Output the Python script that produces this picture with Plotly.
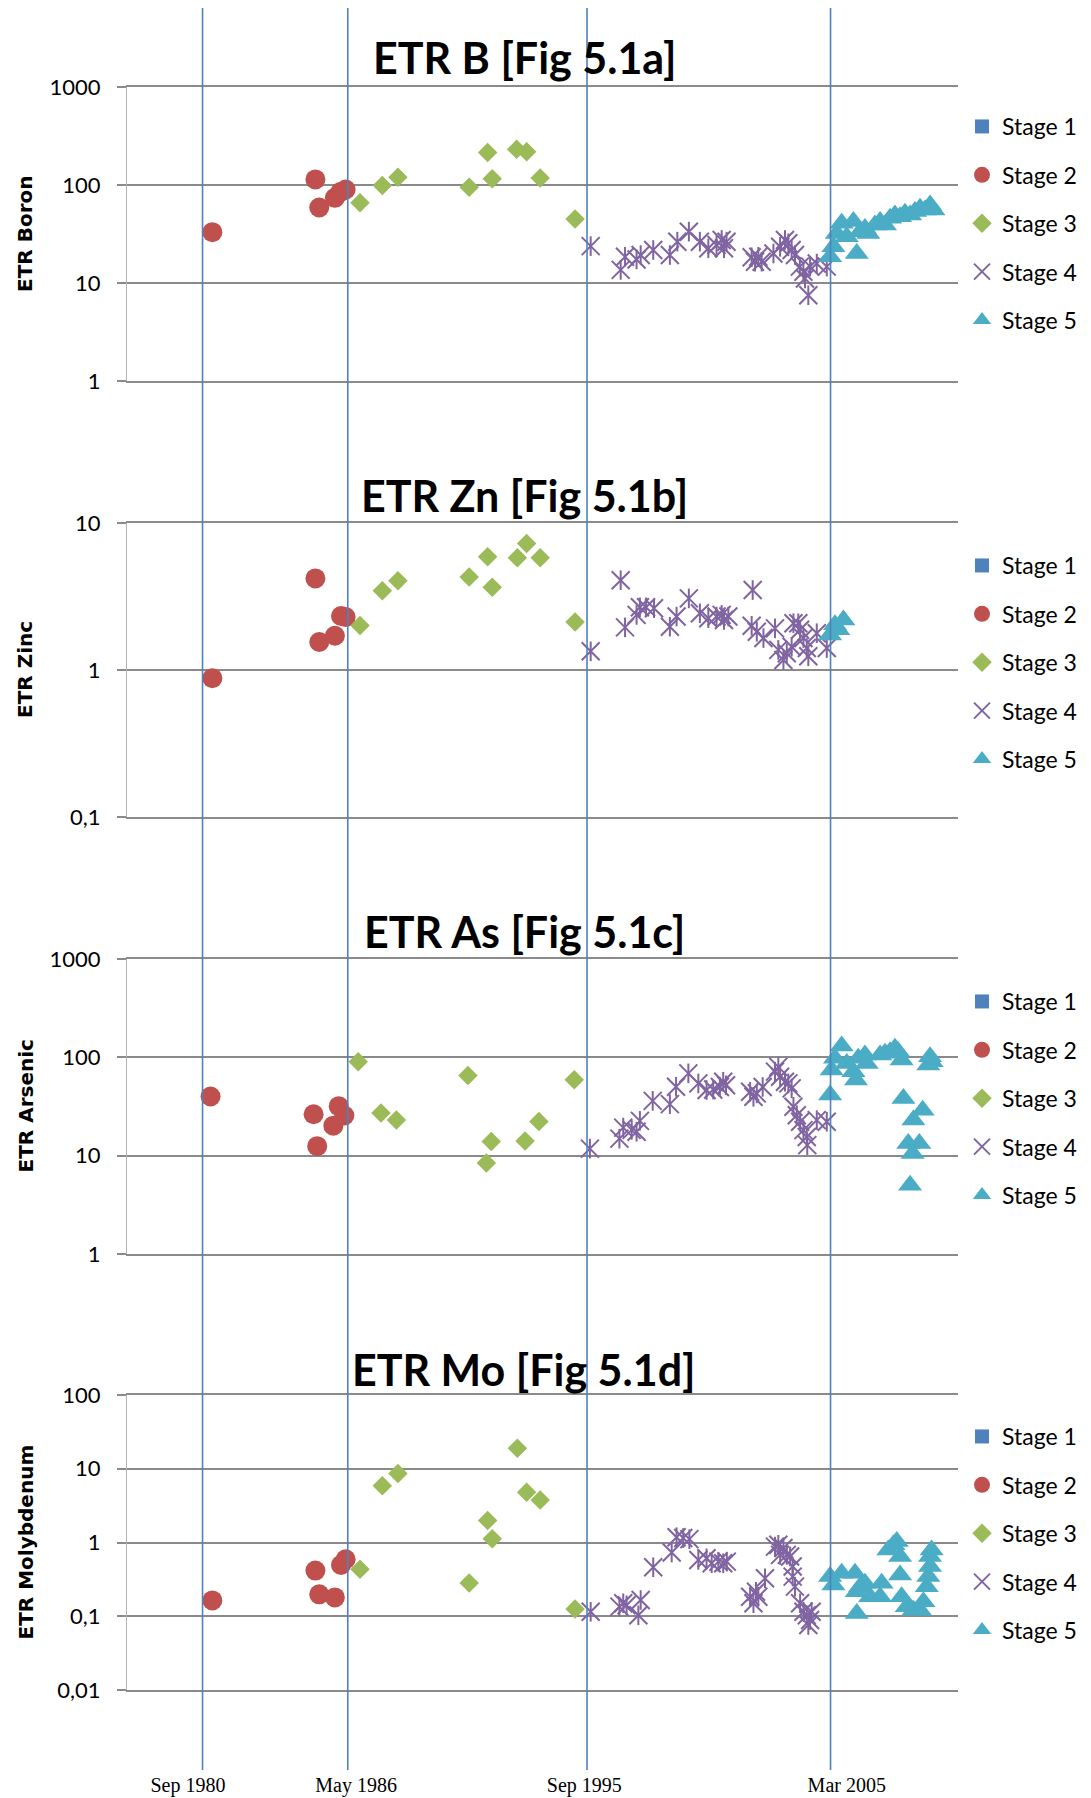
import plotly.graph_objects as go

W, H = 1091, 1798

# ---------------- data (x = decimal year, y = ETR value) ----------------
STAGES = ["Stage 1", "Stage 2", "Stage 3", "Stage 4", "Stage 5"]
COLORS = ["#4F81BD", "#C0504D", "#9BBB59", "#8064A2", "#4BACC6"]

# Stage 1 has no samples in any panel (legend entry only)
S1_X = []
S1_Y = []

# Boron
B2_X = [1981.05, 1985.07, 1985.22, 1985.83, 1986.05, 1986.25]
B2_Y = [33, 114, 59, 74, 85, 90]
B3_X = [1986.81, 1987.68, 1988.29, 1991.07, 1991.79, 1991.97, 1992.92, 1993.31, 1993.84, 1995.20]
B3_Y = [66, 99, 120, 95, 215, 116, 231, 219, 118, 45]
B4_X = [1995.81, 1996.98, 1997.15, 1997.60, 1997.76, 1998.25, 1998.90, 1999.19, 1999.64, 2000.07,
        2000.40, 2000.72, 2000.92, 2001.01, 2001.11, 2002.09, 2002.22, 2002.35, 2002.48, 2002.94,
        2003.20, 2003.39, 2003.52, 2003.65, 2003.78, 2003.97, 2004.11, 2004.17, 2004.30, 2004.37,
        2004.63, 2005.02]
B4_Y = [23.8, 13.6, 18.5, 17.4, 19.3, 21.7, 19.3, 26.4, 33.4, 26.4,
        22.6, 24.4, 27.5, 22.6, 26.4, 18.3, 16.5, 18.5, 16.5, 20.0,
        23.4, 27.5, 25.4, 21.7, 19.3, 14.7, 13.0, 11.1, 7.5, 14.7,
        15.8, 14.7]
B5_X = [2005.15, 2005.28, 2005.41, 2005.60, 2005.80, 2006.06, 2006.19, 2006.32, 2006.51, 2006.64,
        2006.90, 2007.10, 2007.29, 2007.49, 2007.68, 2007.88, 2008.07, 2008.27, 2008.46, 2008.66,
        2008.85, 2009.05, 2009.18]
B5_Y = [18.5, 23.5, 32, 40.6, 29.7, 42.3, 20, 33.4, 36, 32,
        39, 42.3, 39, 45.7, 49.4, 47.5, 51.4, 49.4, 53.5, 57.8,
        55.6, 62.5, 55.6]

# Zinc
Z2_X = [1981.05, 1985.07, 1985.22, 1985.83, 1986.07, 1986.25]
Z2_Y = [0.88, 4.2, 1.55, 1.71, 2.33, 2.29]
Z3_X = [1986.81, 1987.68, 1988.29, 1991.07, 1991.79, 1991.97, 1992.95, 1993.31, 1993.84, 1995.20]
Z3_Y = [2.01, 3.46, 4.05, 4.3, 5.9, 3.65, 5.8, 7.25, 5.8, 2.12]
Z4_X = [1995.81, 1996.98, 1997.15, 1997.60, 1997.73, 1997.97, 1998.28, 1998.90, 1999.16, 1999.64,
        2000.07, 2000.40, 2000.72, 2000.92, 2001.01, 2001.18, 2002.13, 2002.09, 2002.29, 2002.55,
        2003.00, 2003.13, 2003.33, 2003.46, 2003.65, 2003.72, 2003.91, 2003.98, 2004.11, 2004.24,
        2004.30, 2004.63, 2005.02]
Z4_Y = [1.34, 4.08, 1.95, 2.37, 2.67, 2.67, 2.63, 1.97, 2.31, 3.07,
        2.43, 2.25, 2.31, 2.37, 2.19, 2.31, 3.5, 2.0, 1.82, 1.65,
        1.92, 1.37, 1.17, 1.30, 1.44, 2.08, 2.08, 1.88, 1.65, 1.41,
        1.24, 1.78, 1.41]
Z5_X = [2005.15, 2005.34, 2005.47, 2005.67]
Z5_Y = [1.73, 2.03, 1.88, 2.19]

# Arsenic
A2_X = [1980.98, 1985.00, 1985.14, 1985.77, 1985.98, 1986.20]
A2_Y = [40, 26.4, 12.5, 20.2, 31.9, 25.6]
A3_X = [1986.74, 1987.63, 1988.23, 1991.02, 1991.74, 1991.93, 1993.25, 1993.79, 1995.17]
A3_Y = [90, 27.2, 23, 65.5, 8.4, 13.9, 14.1, 22.2, 59]
A4_X = [1995.78, 1996.93, 1997.08, 1997.41, 1997.60, 1997.73, 1998.23, 1998.90, 1999.14, 1999.62,
        2000.01, 2000.33, 2000.59, 2000.85, 2000.98, 2001.09, 2002.03, 2002.16, 2002.29, 2002.52,
        2003.00, 2003.13, 2003.20, 2003.39, 2003.52, 2003.65, 2003.72, 2003.85, 2003.98, 2004.11,
        2004.24, 2004.26, 2004.63, 2005.02]
A4_Y = [11.8, 14.9, 19.3, 18.3, 17.5, 22.6, 36.1, 33.4, 50.2, 68.7,
        54.3, 46.5, 47, 50, 56.5, 52, 44.6, 39.7, 43, 50,
        71.5, 80, 63.5, 56.5, 54.3, 48.3, 31.4, 25.8, 22.1, 18.2,
        15.5, 12.8, 23, 22.1]
A5_X = [2005.15, 2005.21, 2005.34, 2005.60, 2005.80, 2006.06, 2006.16, 2006.25, 2006.51, 2006.58,
        2007.10, 2007.29, 2007.49, 2007.68, 2007.81, 2007.94, 2008.01, 2008.40, 2008.76, 2008.20,
        2008.37, 2008.63, 2008.27, 2008.98, 2009.05, 2009.11]
A5_Y = [41.3, 74.3, 97.8, 130.6, 86.8, 71.5, 58.7, 97.8, 105.7, 86.8,
        105.7, 110, 114, 123.6, 114, 94, 38.2, 23, 29, 13.3,
        10.5, 13.3, 5.0, 83.6, 101.6, 90]

# Molybdenum
M2_X = [1981.05, 1985.07, 1985.22, 1985.83, 1986.07, 1986.25]
M2_Y = [0.164, 0.416, 0.198, 0.180, 0.497, 0.593]
M3_X = [1986.81, 1987.68, 1988.29, 1991.07, 1991.79, 1991.97, 1992.95, 1993.31, 1993.84, 1995.20]
M3_Y = [0.434, 5.9, 8.6, 0.282, 1.99, 1.12, 19, 4.8, 3.77, 0.125]
M4_X = [1995.81, 1996.93, 1997.08, 1997.21, 1997.67, 1997.76, 1998.25, 1998.97, 1999.16, 1999.42,
        1999.66, 2000.01, 2000.33, 2000.53, 2000.79, 2000.98, 2001.12, 2002.03, 2002.16, 2002.26,
        2002.35, 2002.61, 2003.00, 2003.13, 2003.20, 2003.33, 2003.46, 2003.59, 2003.69, 2003.69,
        2003.78, 2003.98, 2004.11, 2004.24, 2004.30, 2004.43, 2004.37]
M4_Y = [0.115, 0.135, 0.150, 0.141, 0.103, 0.166, 0.462, 0.731, 1.18, 1.15,
        1.11, 0.58, 0.61, 0.523, 0.55, 0.523, 0.55, 0.184, 0.150, 0.215,
        0.184, 0.327, 0.88, 0.93, 0.68, 0.84, 0.68, 0.645, 0.472, 0.345,
        0.252, 0.150, 0.115, 0.103, 0.076, 0.115, 0.089]
M5_X = [2005.15, 2005.28, 2005.60, 2006.12, 2006.19, 2006.19, 2006.32, 2006.51, 2006.71, 2007.10,
        2007.16, 2007.42, 2007.62, 2007.75, 2007.88, 2007.88, 2007.94, 2008.14, 2008.40, 2008.66,
        2008.79, 2008.92, 2008.98, 2009.05, 2009.05, 2009.11]
M5_Y = [0.345, 0.266, 0.383, 0.383, 0.215, 0.109, 0.252, 0.28, 0.184, 0.184,
        0.28, 0.794, 0.93, 1.03, 0.645, 0.363, 0.184, 0.135, 0.121, 0.121,
        0.157, 0.252, 0.345, 0.472, 0.645, 0.794]

# stage boundary dates (decimal years): Sep 1980, May 1986, Sep 1995, Mar 2005
BOUNDARIES = [1980.667, 1986.333, 1995.667, 2005.167]
X_TICK_VALS = [1980.10, 1986.66, 1995.56, 2005.80]
X_TICK_TEXT = ["Sep 1980", "May 1986", "Sep 1995", "Mar 2005"]
X_RANGE = [1977.72, 2010.14]

PANELS = [
    dict(title="ETR B [Fig 5.1a]", ytitle="ETR Boron", yrange=[0, 3],
         tickvals=[1, 10, 100, 1000], ticktext=["1", "10", "100", "1000"],
         series=[(S1_X, S1_Y), (B2_X, B2_Y), (B3_X, B3_Y), (B4_X, B4_Y), (B5_X, B5_Y)]),
    dict(title="ETR Zn [Fig 5.1b]", ytitle="ETR Zinc", yrange=[-1, 1],
         tickvals=[0.1, 1, 10], ticktext=["0,1", "1", "10"],
         series=[(S1_X, S1_Y), (Z2_X, Z2_Y), (Z3_X, Z3_Y), (Z4_X, Z4_Y), (Z5_X, Z5_Y)]),
    dict(title="ETR As [Fig 5.1c]", ytitle="ETR Arsenic", yrange=[0, 3],
         tickvals=[1, 10, 100, 1000], ticktext=["1", "10", "100", "1000"],
         series=[(S1_X, S1_Y), (A2_X, A2_Y), (A3_X, A3_Y), (A4_X, A4_Y), (A5_X, A5_Y)]),
    dict(title="ETR Mo [Fig 5.1d]", ytitle="ETR Molybdenum", yrange=[-2, 2],
         tickvals=[0.01, 0.1, 1, 10, 100], ticktext=["0,01", "0,1", "1", "10", "100"],
         series=[(S1_X, S1_Y), (M2_X, M2_Y), (M3_X, M3_Y), (M4_X, M4_Y), (M5_X, M5_Y)]),
]

# ---------------- layout geometry (pixels) ----------------
PLOT_LEFT, PLOT_RIGHT = 127, 958
PANEL_TB = [(87, 381), (523, 817), (959, 1254), (1395, 1690)]
TITLE_Y = [58, 495, 931, 1369]
LEGEND_TOP = [105, 544, 980, 1415]

GRID = "#8a8a8a"
TICK_FONT = dict(family="Lato, Carlito, Calibri, sans-serif", size=22, color="#000000")

fig = go.Figure()

SYMBOLS = ["square", "circle", "diamond", "x-thin-open", "triangle-up"]
SIZES = [14, 20, 15, 18, 21]

for p, panel in enumerate(PANELS):
    sfx = "" if p == 0 else str(p + 1)
    leg = "legend" if p == 0 else "legend%d" % (p + 1)
    for k, (xs, ys) in enumerate(panel["series"]):
        col = COLORS[k]
        px = xs if len(xs) else [None]
        py = ys if len(ys) else [None]
        mk = dict(symbol=SYMBOLS[k], size=SIZES[k], color=col, line=dict(width=0))
        if k == 3:
            mk["line"] = dict(width=2, color=col)
        fig.add_trace(go.Scatter(
            x=px, y=py, mode="markers", name=STAGES[k], marker=mk,
            xaxis="x" + sfx, yaxis="y" + sfx, legend=leg,
            legendgroup="p%ds%d" % (p, k), showlegend=True, hoverinfo="x+y+name"))
        if k == 3:
            fig.add_trace(go.Scatter(
                x=px, y=py, mode="markers", name=STAGES[k],
                marker=dict(symbol="line-ns-open", size=14, color=col,
                            line=dict(width=2, color=col)),
                xaxis="x" + sfx, yaxis="y" + sfx, legend=leg,
                legendgroup="p%ds%d" % (p, k), showlegend=False, hoverinfo="skip"))

layout = dict(
    width=W, height=H, margin=dict(l=0, r=0, t=0, b=0),
    paper_bgcolor="white", plot_bgcolor="white", template="none",
    showlegend=True, annotations=[], shapes=[],
)

for p, panel in enumerate(PANELS):
    sfx = "" if p == 0 else str(p + 1)
    top, bot = PANEL_TB[p]
    dom = [1 - bot / H, 1 - top / H]
    xa = dict(domain=[PLOT_LEFT / W, PLOT_RIGHT / W], range=X_RANGE, anchor="y" + sfx,
              showgrid=False, zeroline=False, showline=True, mirror=True,
              linecolor=GRID, linewidth=2, ticks="", showticklabels=False)
    if p == 3:
        xa.update(showticklabels=True, tickvals=X_TICK_VALS, ticktext=X_TICK_TEXT,
                  tickfont=dict(family="Liberation Serif, Times New Roman, serif", size=20,
                                color="#000000"),
                  ticklabelstandoff=76)
    ya = dict(domain=dom, type="log", range=panel["yrange"], anchor="x" + sfx,
              tickvals=panel["tickvals"], ticktext=panel["ticktext"],
              showgrid=True, gridcolor=GRID, gridwidth=2, zeroline=False,
              ticks="outside", ticklen=9, tickwidth=2, tickcolor=GRID,
              showline=True, linecolor="#b4b4b4", linewidth=1,
              tickfont=TICK_FONT, ticklabelstandoff=12)
    layout["xaxis" + sfx] = xa
    layout["yaxis" + sfx] = ya

    leg = "legend" if p == 0 else "legend%d" % (p + 1)
    layout[leg] = dict(x=962 / W, xanchor="left", y=1 - LEGEND_TOP[p] / H, yanchor="top",
                       font=dict(family="Lato, Carlito, Calibri, sans-serif", size=23,
                                 color="#000000"),
                       traceorder="grouped", tracegroupgap=15.5, bgcolor="rgba(0,0,0,0)",
                       borderwidth=0, itemclick=False, itemdoubleclick=False)

    layout["annotations"].append(dict(
        text=panel["title"], x=524 / W, y=1 - TITLE_Y[p] / H, xref="paper", yref="paper",
        xanchor="center", yanchor="middle", showarrow=False,
        font=dict(family="Lato, Carlito, Calibri, sans-serif", size=43, color="#000000",
                  weight="bold")))
    layout["annotations"].append(dict(
        text=panel["ytitle"], x=25 / W, y=1 - (top + bot) / 2 / H, xref="paper", yref="paper",
        xanchor="center", yanchor="middle", showarrow=False, textangle=-90,
        font=dict(family="DejaVu Sans, Verdana, sans-serif", size=20, color="#000000",
                  weight="bold")))

for bx in BOUNDARIES:
    layout["shapes"].append(dict(type="line", xref="x", yref="paper", x0=bx, x1=bx,
                                 y0=1 - 1770 / H, y1=1 - 8 / H,
                                 line=dict(color="#4F81BD", width=1.6), layer="above"))

fig.update_layout(**layout)
fig.write_html("out.html")
